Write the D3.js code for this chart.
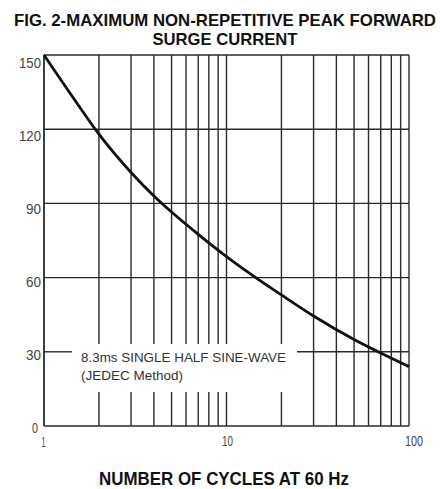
<!DOCTYPE html>
<html>
<head>
<meta charset="utf-8">
<script src="https://cdn.jsdelivr.net/npm/d3@7"></script>
<style>
  html, body { margin: 0; padding: 0; background: #fff; }
  svg { display: block; }
  text { font-family: "Liberation Sans", Arial, sans-serif; }
</style>
</head>
<body>
<script>
// ---- data ----
const cycles = [1, 1.5, 2, 3, 4, 5, 7, 10, 15, 20, 30, 50, 70, 100];
const amps   = [150, 131, 118, 102.5, 93, 86.5, 77.5, 68.5, 59.2, 53, 44.5, 35, 29.5, 24];
const yTicks = [0, 30, 60, 90, 120, 150];
const xTickLabels = [1, 10, 100];
const xGrid = [2, 3, 4, 5, 6, 7, 8, 9, 10, 20, 30, 40, 50, 60, 70, 80, 90];
const titleLines = ["FIG. 2-MAXIMUM NON-REPETITIVE PEAK FORWARD", "SURGE CURRENT"];
const xTitle = "NUMBER OF CYCLES AT 60 Hz";
const noteLines = ["8.3ms SINGLE HALF SINE-WAVE", "(JEDEC Method)"];

const W = 441, H = 489;
const svg = d3.select("body").append("svg").attr("width", W).attr("height", H);

const x = d3.scaleLog().domain([1, 100]).range([44, 409]);
const y = d3.scaleLinear().domain([0, 150]).range([426, 55]);

const gridColor = "#2a2a2a";
// note box gap region (pixels)
const gapX0 = 72, gapX1 = 297, gapY0 = 344, gapY1 = 392;

const g = svg.append("g");

// horizontal grid lines
yTicks.forEach(v => {
  const yy = y(v);
  const segs = (yy > gapY0 && yy < gapY1) ? [[x(1), gapX0], [gapX1, x(100)]] : [[x(1), x(100)]];
  segs.forEach(s => g.append("line").attr("x1", s[0]).attr("x2", s[1]).attr("y1", yy).attr("y2", yy)
      .attr("stroke", gridColor).attr("stroke-width", 1.4));
});

// vertical grid lines
[1].concat(xGrid, [100]).forEach(v => {
  const xx = x(v);
  const segs = (xx > gapX0 && xx < gapX1) ? [[y(150), gapY0], [gapY1, y(0)]] : [[y(150), y(0)]];
  segs.forEach(s => g.append("line").attr("x1", xx).attr("x2", xx).attr("y1", s[0]).attr("y2", s[1])
      .attr("stroke", gridColor).attr("stroke-width", v === 1 ? 1.8 : 1.4));
});

// curve
const pts = cycles.map((c, i) => [c, amps[i]]);
const line = d3.line().x(d => x(d[0])).y(d => y(d[1])).curve(d3.curveMonotoneX);
svg.append("path").datum(pts).attr("d", line)
  .attr("fill", "none").attr("stroke", "#111").attr("stroke-width", 2.8);

// y tick labels
const yLabW = {0: 6, 30: 15, 60: 15, 90: 15, 120: 22, 150: 22};
yTicks.forEach(v => {
  svg.append("text").attr("x", v === 0 ? 38 : 41).attr("y", y(v) + 7 + v / 150 * 5.5)
    .attr("text-anchor", "end").attr("font-size", 14).attr("fill", "#444")
    .attr("textLength", yLabW[v]).attr("lengthAdjust", "spacingAndGlyphs")
    .text(v);
});

// x tick labels
const xLabW = {1: 4, 10: 11, 100: 18};
const xLabC = {1: 43.5, 10: 227.5, 100: 414};
xTickLabels.forEach(v => {
  svg.append("text").attr("x", xLabC[v]).attr("y", v === 1 ? 447 : 445.5)
    .attr("text-anchor", "middle").attr("font-size", 14).attr("fill", "#444")
    .attr("textLength", xLabW[v]).attr("lengthAdjust", "spacingAndGlyphs")
    .text(v);
});

// note text
noteLines.forEach((t, i) => {
  svg.append("text").attr("x", 81).attr("y", 362 + i * 18)
    .attr("font-size", 13.5).attr("fill", "#333")
    .attr("textLength", i === 0 ? 205 : 102).attr("lengthAdjust", "spacingAndGlyphs")
    .text(t);
});

// titles
svg.append("text").attr("x", 225).attr("y", 26).attr("text-anchor", "middle")
  .attr("font-size", 17).attr("font-weight", "bold").attr("fill", "#111")
  .attr("textLength", 422).attr("lengthAdjust", "spacingAndGlyphs").text(titleLines[0]);
svg.append("text").attr("x", 225).attr("y", 44.5).attr("text-anchor", "middle")
  .attr("font-size", 16.5).attr("font-weight", "bold").attr("fill", "#111")
  .attr("textLength", 145).attr("lengthAdjust", "spacingAndGlyphs").text(titleLines[1]);
svg.append("text").attr("x", 224).attr("y", 485).attr("text-anchor", "middle")
  .attr("font-size", 17.5).attr("font-weight", "bold").attr("fill", "#111")
  .attr("textLength", 250).attr("lengthAdjust", "spacingAndGlyphs").text(xTitle);
</script>
</body>
</html>
